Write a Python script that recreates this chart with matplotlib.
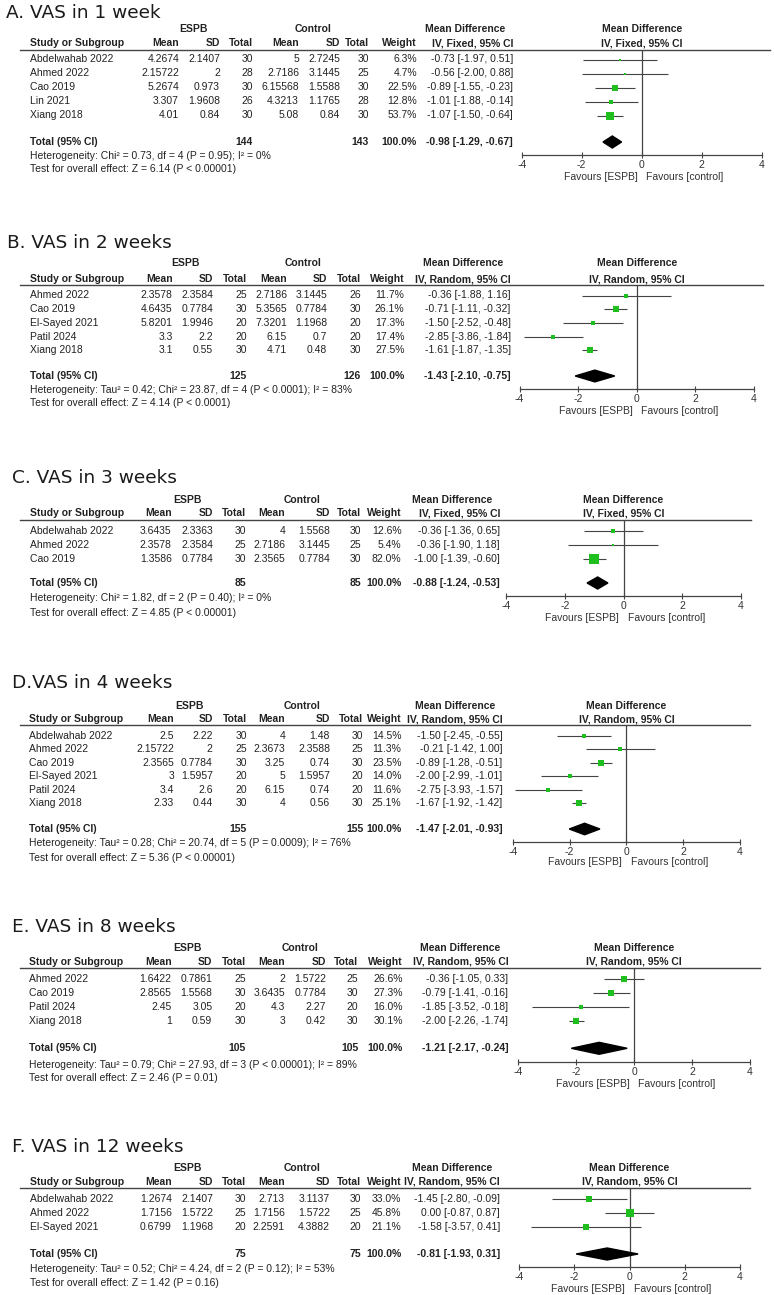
import matplotlib
matplotlib.use("Agg")
import matplotlib.pyplot as plt
import matplotlib.transforms as mtransforms
from matplotlib.lines import Line2D
from matplotlib.patches import Polygon
import numpy as np

plt.rcParams['axes.unicode_minus'] = False
plt.rcParams['font.family'] = ['Liberation Sans', 'DejaVu Sans']

W, H = 774, 1295
GREEN = '#1fbf1f'
INK = '#222222'
GREY = '#444444'
FS = 7.5

# A. VAS in 1 week (fixed)
a_study = ["Abdelwahab 2022", "Ahmed 2022", "Cao 2019", "Lin 2021", "Xiang 2018"]
a_espb_mean = [4.2674, 2.15722, 5.2674, 3.307, 4.01]
a_espb_sd = [2.1407, 2, 0.973, 1.9608, 0.84]
a_espb_n = [30, 28, 30, 26, 30]
a_ctrl_mean = [5, 2.7186, 6.15568, 4.3213, 5.08]
a_ctrl_sd = [2.7245, 3.1445, 1.5588, 1.1765, 0.84]
a_ctrl_n = [30, 25, 30, 28, 30]
a_weight = [6.3, 4.7, 22.5, 12.8, 53.7]
a_md = [-0.73, -0.56, -0.89, -1.01, -1.07]
a_lo = [-1.97, -2.00, -1.55, -1.88, -1.50]
a_hi = [0.51, 0.88, -0.23, -0.14, -0.64]
a_total = [144, 143, -0.98, -1.29, -0.67]
a_het = "Heterogeneity: Chi² = 0.73, df = 4 (P = 0.95); I² = 0%"
a_test = "Test for overall effect: Z = 6.14 (P < 0.00001)"

# B. VAS in 2 weeks (random)
b_study = ["Ahmed 2022", "Cao 2019", "El-Sayed 2021", "Patil 2024", "Xiang 2018"]
b_espb_mean = [2.3578, 4.6435, 5.8201, 3.3, 3.1]
b_espb_sd = [2.3584, 0.7784, 1.9946, 2.2, 0.55]
b_espb_n = [25, 30, 20, 20, 30]
b_ctrl_mean = [2.7186, 5.3565, 7.3201, 6.15, 4.71]
b_ctrl_sd = [3.1445, 0.7784, 1.1968, 0.7, 0.48]
b_ctrl_n = [26, 30, 20, 20, 30]
b_weight = [11.7, 26.1, 17.3, 17.4, 27.5]
b_md = [-0.36, -0.71, -1.50, -2.85, -1.61]
b_lo = [-1.88, -1.11, -2.52, -3.86, -1.87]
b_hi = [1.16, -0.32, -0.48, -1.84, -1.35]
b_total = [125, 126, -1.43, -2.10, -0.75]
b_het = "Heterogeneity: Tau² = 0.42; Chi² = 23.87, df = 4 (P < 0.0001); I² = 83%"
b_test = "Test for overall effect: Z = 4.14 (P < 0.0001)"

# C. VAS in 3 weeks (fixed)
c_study = ["Abdelwahab 2022", "Ahmed 2022", "Cao 2019"]
c_espb_mean = [3.6435, 2.3578, 1.3586]
c_espb_sd = [2.3363, 2.3584, 0.7784]
c_espb_n = [30, 25, 30]
c_ctrl_mean = [4, 2.7186, 2.3565]
c_ctrl_sd = [1.5568, 3.1445, 0.7784]
c_ctrl_n = [30, 25, 30]
c_weight = [12.6, 5.4, 82.0]
c_md = [-0.36, -0.36, -1.00]
c_lo = [-1.36, -1.90, -1.39]
c_hi = [0.65, 1.18, -0.60]
c_total = [85, 85, -0.88, -1.24, -0.53]
c_het = "Heterogeneity: Chi² = 1.82, df = 2 (P = 0.40); I² = 0%"
c_test = "Test for overall effect: Z = 4.85 (P < 0.00001)"

# D. VAS in 4 weeks (random)
d_study = ["Abdelwahab 2022", "Ahmed 2022", "Cao 2019", "El-Sayed 2021", "Patil 2024", "Xiang 2018"]
d_espb_mean = [2.5, 2.15722, 2.3565, 3, 3.4, 2.33]
d_espb_sd = [2.22, 2, 0.7784, 1.5957, 2.6, 0.44]
d_espb_n = [30, 25, 30, 20, 20, 30]
d_ctrl_mean = [4, 2.3673, 3.25, 5, 6.15, 4]
d_ctrl_sd = [1.48, 2.3588, 0.74, 1.5957, 0.74, 0.56]
d_ctrl_n = [30, 25, 30, 20, 20, 30]
d_weight = [14.5, 11.3, 23.5, 14.0, 11.6, 25.1]
d_md = [-1.50, -0.21, -0.89, -2.00, -2.75, -1.67]
d_lo = [-2.45, -1.42, -1.28, -2.99, -3.93, -1.92]
d_hi = [-0.55, 1.00, -0.51, -1.01, -1.57, -1.42]
d_total = [155, 155, -1.47, -2.01, -0.93]
d_het = "Heterogeneity: Tau² = 0.28; Chi² = 20.74, df = 5 (P = 0.0009); I² = 76%"
d_test = "Test for overall effect: Z = 5.36 (P < 0.00001)"

# E. VAS in 8 weeks (random)
e_study = ["Ahmed 2022", "Cao 2019", "Patil 2024", "Xiang 2018"]
e_espb_mean = [1.6422, 2.8565, 2.45, 1]
e_espb_sd = [0.7861, 1.5568, 3.05, 0.59]
e_espb_n = [25, 30, 20, 30]
e_ctrl_mean = [2, 3.6435, 4.3, 3]
e_ctrl_sd = [1.5722, 0.7784, 2.27, 0.42]
e_ctrl_n = [25, 30, 20, 30]
e_weight = [26.6, 27.3, 16.0, 30.1]
e_md = [-0.36, -0.79, -1.85, -2.00]
e_lo = [-1.05, -1.41, -3.52, -2.26]
e_hi = [0.33, -0.16, -0.18, -1.74]
e_total = [105, 105, -1.21, -2.17, -0.24]
e_het = "Heterogeneity: Tau² = 0.79; Chi² = 27.93, df = 3 (P < 0.00001); I² = 89%"
e_test = "Test for overall effect: Z = 2.46 (P = 0.01)"

# F. VAS in 12 weeks (random)
f_study = ["Abdelwahab 2022", "Ahmed 2022", "El-Sayed 2021"]
f_espb_mean = [1.2674, 1.7156, 0.6799]
f_espb_sd = [2.1407, 1.5722, 1.1968]
f_espb_n = [30, 25, 20]
f_ctrl_mean = [2.713, 1.7156, 2.2591]
f_ctrl_sd = [3.1137, 1.5722, 4.3882]
f_ctrl_n = [30, 25, 20]
f_weight = [33.0, 45.8, 21.1]
f_md = [-1.45, 0.00, -1.58]
f_lo = [-2.80, -0.87, -3.57]
f_hi = [-0.09, 0.87, 0.41]
f_total = [75, 75, -0.81, -1.93, 0.31]
f_het = "Heterogeneity: Tau² = 0.52; Chi² = 4.24, df = 2 (P = 0.12); I² = 53%"
f_test = "Test for overall effect: Z = 1.42 (P = 0.16)"

# pixel layout of each panel (the six plots were pasted at slightly different scales)
lay_a = dict(title_x=6, title_y=13, espb_y=29, head_y=43.5, line_y=49.5, row1=59.5, dy=14,
             total_y=142, het_y=156, test_y=169, axis_y=155, fav_y=177, study_x=30,
             cols=[179, 220, 253, 299, 340, 369], weight_x=417, md_x=513,
             espb_cx=193, ctrl_cx=313, line_r=770, xaxis=(521.7, 761.7))
lay_b = dict(title_x=7, title_y=243, espb_y=263, head_y=279, line_y=284.5, row1=295.5, dy=13.7,
             total_y=376, het_y=390, test_y=403, axis_y=389, fav_y=411, study_x=30,
             cols=[172.7, 213, 247, 287, 327, 360.7], weight_x=404.5, md_x=510.7,
             espb_cx=185, ctrl_cx=303, line_r=763, xaxis=(519.5, 754))
lay_c = dict(title_x=12, title_y=478, espb_y=500, head_y=513.3, line_y=520, row1=530.5, dy=14,
             total_y=583, het_y=598.3, test_y=612.7, axis_y=595.7, fav_y=617.7, study_x=30,
             cols=[171.7, 213.3, 246, 285, 330, 361], weight_x=401.5, md_x=500,
             espb_cx=188, ctrl_cx=302, line_r=750.7, xaxis=(506, 741))
lay_d = dict(title_x=12, title_y=683.3, espb_y=706, head_y=719.3, line_y=725, row1=736, dy=13.4,
             total_y=829, het_y=843.5, test_y=858, axis_y=841.5, fav_y=862, study_x=29.3,
             cols=[174, 212.7, 246.7, 285, 330, 363.3], weight_x=401.5, md_x=502.7,
             espb_cx=189, ctrl_cx=302.5, line_r=750, xaxis=(512.7, 740))
lay_e = dict(title_x=12, title_y=927, espb_y=948, head_y=962, line_y=968, row1=979, dy=13.9,
             total_y=1048.3, het_y=1065, test_y=1078.3, axis_y=1061.7, fav_y=1083.7, study_x=29.3,
             cols=[171.7, 212.3, 245.7, 285, 326, 358.3], weight_x=403, md_x=508.3,
             espb_cx=188, ctrl_cx=300, line_r=760, xaxis=(518.3, 750))
lay_f = dict(title_x=12, title_y=1147, espb_y=1168, head_y=1182, line_y=1188, row1=1199, dy=14,
             total_y=1254, het_y=1269, test_y=1283, axis_y=1267, fav_y=1289, study_x=30,
             cols=[172, 213, 246, 285, 330, 361], weight_x=401.5, md_x=500,
             espb_cx=188, ctrl_cx=302, line_r=750, xaxis=(519, 740))

panels = [
    ("A. VAS in 1 week", "Fixed", a_study, a_espb_mean, a_espb_sd, a_espb_n, a_ctrl_mean, a_ctrl_sd,
     a_ctrl_n, a_weight, a_md, a_lo, a_hi, a_total, a_het, a_test, lay_a),
    ("B. VAS in 2 weeks", "Random", b_study, b_espb_mean, b_espb_sd, b_espb_n, b_ctrl_mean, b_ctrl_sd,
     b_ctrl_n, b_weight, b_md, b_lo, b_hi, b_total, b_het, b_test, lay_b),
    ("C. VAS in 3 weeks", "Fixed", c_study, c_espb_mean, c_espb_sd, c_espb_n, c_ctrl_mean, c_ctrl_sd,
     c_ctrl_n, c_weight, c_md, c_lo, c_hi, c_total, c_het, c_test, lay_c),
    ("D.VAS in 4 weeks", "Random", d_study, d_espb_mean, d_espb_sd, d_espb_n, d_ctrl_mean, d_ctrl_sd,
     d_ctrl_n, d_weight, d_md, d_lo, d_hi, d_total, d_het, d_test, lay_d),
    ("E. VAS in 8 weeks", "Random", e_study, e_espb_mean, e_espb_sd, e_espb_n, e_ctrl_mean, e_ctrl_sd,
     e_ctrl_n, e_weight, e_md, e_lo, e_hi, e_total, e_het, e_test, lay_e),
    ("F. VAS in 12 weeks", "Random", f_study, f_espb_mean, f_espb_sd, f_espb_n, f_ctrl_mean, f_ctrl_sd,
     f_ctrl_n, f_weight, f_md, f_lo, f_hi, f_total, f_het, f_test, lay_f),
]

fig = plt.figure(figsize=(W / 100, H / 100), dpi=100)


def ci_text(m, l, h):
    return f"{m:.2f} [{l:.2f}, {h:.2f}]"


def draw_panel(title, model, study, em, esd, en, cm, csd, cn, wt, md, lo, hi, tot, het, test, L):
    n = len(study)
    r0, dy = L['row1'], L['dy']

    def row(py):
        return (py - r0) / dy

    x0, x1 = L['xaxis']
    ax = fig.add_axes([x0 / W, 1 - L['axis_y'] / H, (x1 - x0) / W, (L['axis_y'] - L['line_y']) / H])
    ax.set_xlim(-4, 4)
    ax.set_ylim(row(L['axis_y']), row(L['line_y']))
    ax.patch.set_alpha(0)
    tr = mtransforms.blended_transform_factory(fig.transFigure, ax.transData)

    def put(px, y, s, ha='left', bold=False):
        ax.text(px / W, y, s, transform=tr, ha=ha, va='center', fontsize=FS,
                fontweight='bold' if bold else 'normal', color=INK)

    fig.text(L['title_x'] / W, 1 - L['title_y'] / H, title, fontsize=13.3,
             family='DejaVu Sans', va='center', color='#1a1a1a')

    # headers
    ye, yh = row(L['espb_y']), row(L['head_y'])
    c = L['cols']
    put(L['espb_cx'], ye, "ESPB", 'center', True)
    put(L['ctrl_cx'], ye, "Control", 'center', True)
    put(L['md_x'] - 48, ye, "Mean Difference", 'center', True)
    put(L['study_x'], yh, "Study or Subgroup", bold=True)
    for x, s in zip(c, ["Mean", "SD", "Total", "Mean", "SD", "Total"]):
        put(x, yh, s, 'right', True)
    put(L['weight_x'], yh, "Weight", 'right', True)
    put(L['md_x'], yh, f"IV, {model}, 95% CI", 'right', True)
    ax.text(0, ye, "Mean Difference", ha='center', va='center', fontsize=FS, fontweight='bold', color=INK)
    ax.text(0, yh, f"IV, {model}, 95% CI", ha='center', va='center', fontsize=FS, fontweight='bold', color=INK)
    fig.add_artist(Line2D([20 / W, L['line_r'] / W], [1 - L['line_y'] / H] * 2, color=GREY, lw=1.0))

    # study rows
    for i in range(n):
        put(L['study_x'], i, study[i])
        vals = [f"{em[i]:g}", f"{esd[i]:g}", f"{en[i]}", f"{cm[i]:g}", f"{csd[i]:g}", f"{cn[i]}"]
        for x, s in zip(c, vals):
            put(x, i, s, 'right')
        put(L['weight_x'], i, f"{wt[i]:.1f}%", 'right')
        put(L['md_x'], i, ci_text(md[i], lo[i], hi[i]), 'right')

    ys = np.arange(n)
    ax.hlines(ys, lo, hi, color=GREY, lw=0.8, zorder=2)
    for i in range(n):
        ax.plot(md[i], ys[i], marker='s', ms=max(1.8, 0.86 * np.sqrt(wt[i])),
                color=GREEN, mec=GREEN, mew=0, zorder=3)

    # total row
    yt = row(L['total_y'])
    put(L['study_x'], yt, "Total (95% CI)", bold=True)
    put(c[2], yt, f"{tot[0]}", 'right', True)
    put(c[5], yt, f"{tot[1]}", 'right', True)
    put(L['weight_x'], yt, "100.0%", 'right', True)
    put(L['md_x'], yt, ci_text(tot[2], tot[3], tot[4]), 'right', True)
    hh = 0.43
    ax.add_patch(Polygon([(tot[3], yt), (tot[2], yt - hh), (tot[4], yt), (tot[2], yt + hh)],
                         closed=True, color='black', zorder=3))
    put(L['study_x'], row(L['het_y']), het)
    put(L['study_x'], row(L['test_y']), test)

    # axis
    ax.axvline(0, color=GREY, lw=0.9, zorder=1)
    for s in ['top', 'left', 'right']:
        ax.spines[s].set_visible(False)
    ax.spines['bottom'].set_color(GREY)
    ax.spines['bottom'].set_linewidth(0.9)
    ax.set_yticks([])
    ax.set_xticks([-4, -2, 0, 2, 4])
    ax.tick_params(axis='x', direction='inout', length=4.5, width=0.8, color=GREY,
                   labelsize=FS, labelcolor='#333333', pad=1.5)
    yf = row(L['fav_y'])
    ax.annotate("Favours [ESPB]", xy=(0, yf), xytext=(-3, 0), textcoords='offset points',
                ha='right', va='center', fontsize=FS, color='#333333', annotation_clip=False)
    ax.annotate("Favours [control]", xy=(0, yf), xytext=(3, 0), textcoords='offset points',
                ha='left', va='center', fontsize=FS, color='#333333', annotation_clip=False)


for p in panels:
    draw_panel(*p)

fig.savefig("out.png", dpi=100, facecolor='white')
